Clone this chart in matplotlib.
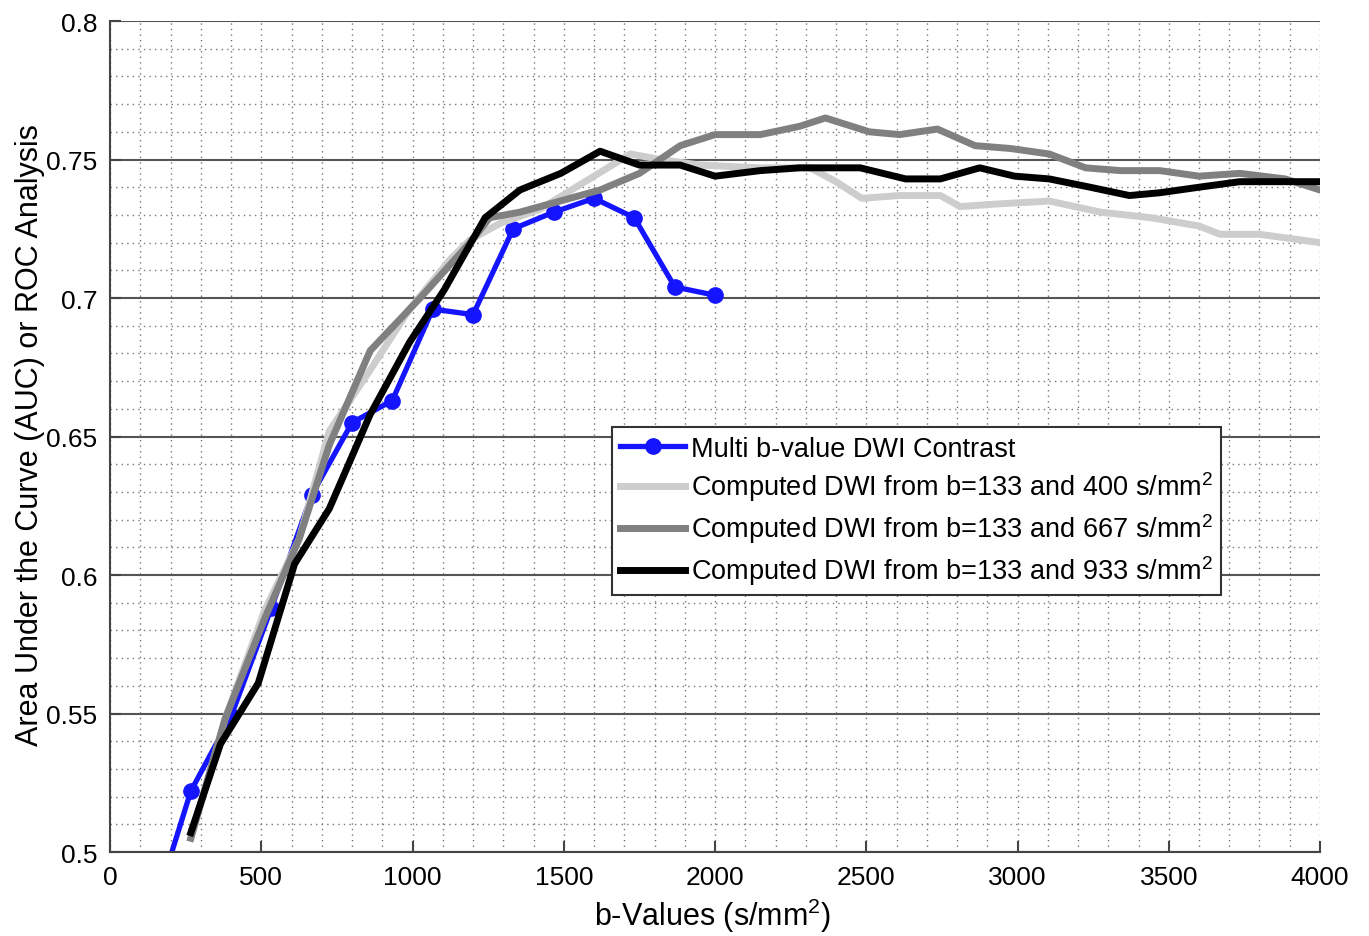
import numpy as np
import matplotlib
import matplotlib.pyplot as plt
from matplotlib.ticker import MultipleLocator

plt.rcParams["font.family"] = ["Liberation Sans", "DejaVu Sans"]
plt.rcParams["mathtext.default"] = "regular"

# Multi b-value DWI contrast (measured points)
b_multi = [133, 267, 400, 533, 667, 800, 933, 1067, 1200, 1333, 1467, 1600, 1733, 1867, 2000]
auc_multi = [0.475, 0.522, 0.549, 0.588, 0.629, 0.655, 0.663, 0.696, 0.694, 0.725, 0.731, 0.736, 0.729, 0.704, 0.701]

# Computed DWI from b=133 and 400
b_400 = [267, 380, 510, 625, 725, 860, 990, 1125, 1190, 1290, 1420, 1555, 1720, 1820, 1950,
         2150, 2315, 2400, 2485, 2610, 2745, 2810, 2940, 3105, 3275, 3440, 3600, 3670, 3800, 4000]
auc_400 = [0.505, 0.548, 0.587, 0.613, 0.652, 0.674, 0.696, 0.714, 0.721, 0.727, 0.732, 0.741, 0.752, 0.750, 0.748,
           0.747, 0.747, 0.742, 0.736, 0.737, 0.737, 0.733, 0.734, 0.735, 0.731, 0.729, 0.726, 0.723, 0.723, 0.720]

# Computed DWI from b=133 and 667
b_667 = [267, 380, 510, 625, 725, 860, 1025, 1190, 1255, 1355, 1620, 1750, 1885, 2000, 2150,
         2280, 2365, 2510, 2610, 2735, 2860, 2975, 3105, 3225, 3340, 3470, 3600, 3735, 3885, 4000]
auc_667 = [0.505, 0.548, 0.584, 0.613, 0.647, 0.681, 0.700, 0.720, 0.729, 0.731, 0.739, 0.745, 0.755, 0.759, 0.759,
           0.762, 0.765, 0.760, 0.759, 0.761, 0.755, 0.754, 0.752, 0.747, 0.746, 0.746, 0.744, 0.745, 0.743, 0.739]

# Computed DWI from b=133 and 933
b_933 = [267, 365, 490, 610, 725, 860, 990, 1105, 1240, 1355, 1490, 1620, 1750, 1885, 2000,
         2150, 2280, 2480, 2630, 2745, 2875, 2990, 3105, 3240, 3370, 3470, 3600, 3735, 3870, 4000]
auc_933 = [0.507, 0.539, 0.561, 0.604, 0.624, 0.658, 0.684, 0.703, 0.729, 0.739, 0.745, 0.753, 0.748, 0.748, 0.744,
           0.746, 0.747, 0.747, 0.743, 0.743, 0.747, 0.744, 0.743, 0.740, 0.737, 0.738, 0.740, 0.742, 0.742, 0.742]

fig = plt.figure(figsize=(13.69, 9.37), dpi=100)
ax = fig.add_axes([0.0804, 0.0896, 0.8838, 0.8869])

# grid: solid majors on y, dotted minors on both axes
ax.yaxis.set_major_locator(MultipleLocator(0.05))
ax.yaxis.set_minor_locator(MultipleLocator(0.01))
ax.xaxis.set_major_locator(MultipleLocator(500))
ax.xaxis.set_minor_locator(MultipleLocator(100))
ax.grid(which="minor", axis="both", linestyle=(0, (1, 3)), color="#777777", linewidth=1.0)
ax.grid(which="major", axis="x", linestyle=(0, (1, 3)), color="#777777", linewidth=1.0)
ax.grid(which="major", axis="y", linestyle="-", color="#555555", linewidth=1.5)
ax.set_axisbelow(True)

ax.plot(b_multi, auc_multi, "-o", color="#1414ff", linewidth=3.8, markersize=11,
        label="Multi b-value DWI Contrast")
ax.plot(b_400, auc_400, color="#cdcdcd", linewidth=5,
        label="Computed DWI from b=133 and 400 s/mm$^2$")
ax.plot(b_667, auc_667, color="#808080", linewidth=5,
        label="Computed DWI from b=133 and 667 s/mm$^2$")
ax.plot(b_933, auc_933, color="black", linewidth=5,
        label="Computed DWI from b=133 and 933 s/mm$^2$")

ax.set_xlim(0, 4000)
ax.set_ylim(0.5, 0.8)
ax.set_yticks([0.5, 0.55, 0.6, 0.65, 0.7, 0.75, 0.8])
ax.set_yticklabels(["0.5", "0.55", "0.6", "0.65", "0.7", "0.75", "0.8"])

for side in ["top", "right"]:
    ax.spines[side].set_visible(False)
for side in ["left", "bottom"]:
    ax.spines[side].set_color("#444444")
    ax.spines[side].set_linewidth(1.5)

ax.tick_params(which="major", direction="in", length=8, width=1.5, color="#444444",
               labelsize=19, pad=9)
ax.tick_params(which="minor", length=0)

ax.set_xlabel("b-Values (s/mm$^2$)", fontsize=22)
ax.set_ylabel("Area Under the Curve (AUC) or ROC Analysis", fontsize=22)
ax.xaxis.set_label_coords(0.498, -0.052)
ax.yaxis.set_label_coords(-0.054, 0.503)

leg = ax.legend(loc="upper left", bbox_to_anchor=(0.415, 0.511), fontsize=19.5,
                frameon=True, fancybox=False, handlelength=2.4, handletextpad=0.2,
                borderpad=0.3, labelspacing=0.3, borderaxespad=0)
leg.get_frame().set_edgecolor("#333333")
leg.get_frame().set_linewidth(1.5)
leg.get_frame().set_alpha(1)

fig.savefig("out.png", dpi=100, facecolor="white")
